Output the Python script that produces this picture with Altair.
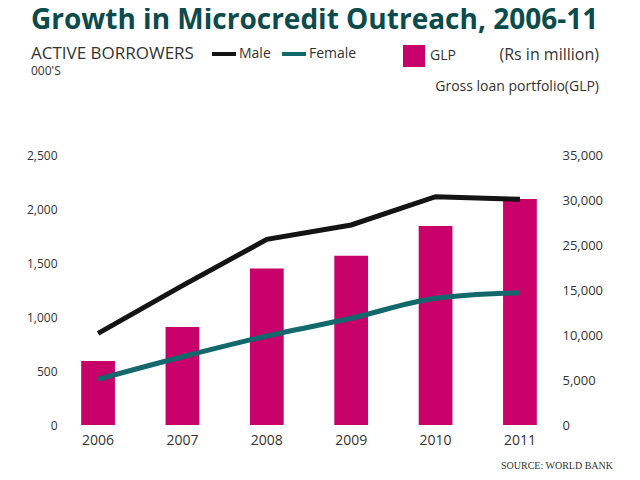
import json
import altair as alt
import pandas as pd

# ---------------- data ----------------
years = ["2006", "2007", "2008", "2009", "2010", "2011"]
male = [849, 1290, 1719, 1852, 2114, 2090]          # active borrowers, 000's
female = [423, 632, 824, 988, 1173, 1225]           # active borrowers, 000's
glp = [7100, 10900, 17400, 18800, 22100, 25100]     # gross loan portfolio (right-axis units)

left_ticks = [0, 500, 1000, 1500, 2000, 2500]
right_ticks = [0, 5000, 10000, 15000, 20000, 25000, 30000]
right_tick_labels = ["0", "5,000", "10,000", "15,000", "25,000", "30,000", "35,000"]

series_names = ["Male", "Female"]
series_colors = ["#141414", "#13686c"]
bar_name = ["GLP"]
bar_color = "#c7006a"
title_color = "#0b4b4b"
text_color = "#333333"
FONT = "Open Sans"

bars_df = pd.DataFrame({"year": years, "glp": glp, "legend": bar_name * len(years)})
lines_df = pd.DataFrame({
    "year": years * 2,
    "value": male + female,
    "series": [series_names[0]] * len(years) + [series_names[1]] * len(years),
})

x_enc = alt.X(
    "year:O",
    scale=alt.Scale(paddingInner=0.6, paddingOuter=0.18),
    axis=alt.Axis(title=None, labelAngle=0, domain=False, ticks=False, grid=False,
                  labelPadding=8, labelFontSize=14, labelColor=text_color, labelFont=FONT),
)

label_expr = json.dumps(right_tick_labels) + "[round(datum.value / 5000)]"

bars = alt.Chart(bars_df).mark_bar(color=bar_color).encode(
    x=x_enc,
    y=alt.Y("glp:Q", scale=alt.Scale(domain=[0, 30000], nice=False),
            axis=alt.Axis(orient="right", values=right_ticks, labelExpr=label_expr, title=None,
                          domain=False, ticks=False, grid=False, labelPadding=10,
                          labelFontSize=13, labelColor=text_color, labelFont=FONT)),
    fill=alt.Fill("legend:N", scale=alt.Scale(domain=bar_name, range=[bar_color]),
                  legend=alt.Legend(title=None, orient="none", legendX=337, legendY=-110,
                                    symbolType="square", symbolSize=484, symbolStrokeWidth=0,
                                    symbolOpacity=1, labelOffset=5, labelFontSize=14,
                                    labelColor=text_color, labelFont=FONT)),
)

stroke_enc = alt.Stroke(
    "series:N", scale=alt.Scale(domain=series_names, range=series_colors),
    legend=alt.Legend(title=None, orient="none", legendX=144, legendY=-115, direction="horizontal",
                      symbolType="stroke", symbolSize=576, symbolStrokeWidth=4,
                      columnPadding=3, labelOffset=1, labelFontSize=14,
                      labelColor=text_color, labelFont=FONT),
)
y_left = alt.Y("value:Q", scale=alt.Scale(domain=[0, 2500], nice=False),
               axis=alt.Axis(orient="left", values=left_ticks, format=",d", title=None,
                             domain=False, ticks=False, grid=False, labelPadding=9,
                             labelFontSize=12, labelColor=text_color, labelFont=FONT))

line_male = alt.Chart(lines_df).transform_filter(
    alt.datum.series == series_names[0]
).mark_line(strokeWidth=5, interpolate="linear").encode(x=x_enc, y=y_left, stroke=stroke_enc)

line_female = alt.Chart(lines_df).transform_filter(
    alt.datum.series == series_names[1]
).mark_line(strokeWidth=5, interpolate="monotone").encode(x=x_enc, y=y_left, stroke=stroke_enc)

lines = alt.layer(line_male, line_female)


def txt(text, x, y, size, align="left", color=text_color, font=FONT, weight="normal"):
    return alt.Chart(pd.DataFrame({"t": [text]})).mark_text(
        align=align, baseline="alphabetic", fontSize=size, font=font,
        fontWeight=weight, color=color,
    ).encode(x=alt.value(x), y=alt.value(y), text="t:N")


texts = [
    txt("Growth in Microcredit Outreach, 2006-11", -35, -126, 28, color=title_color,
        font="Open Sans", weight="bold"),
    txt("ACTIVE BORROWERS", -35, -96, 17),
    txt("000'S", -35, -80, 12),
    txt("(Rs in million)", 533, -95, 16, align="right"),
    txt("Gross loan portfolio(GLP)", 533, -64.5, 14, align="right"),
    txt("SOURCE: WORLD BANK", 547, 314, 10, align="right", font="Liberation Serif"),
]

chart = alt.layer(bars, lines, *texts).resolve_scale(y="independent").properties(
    width=486, height=270,
    padding={"left": 58, "top": 147, "right": 80, "bottom": 47},
    autosize=alt.AutoSizeParams(type="none"),
).configure(background="white").configure_view(stroke=None)

chart.save("out.html", embed_options={"renderer": "svg", "actions": False})
